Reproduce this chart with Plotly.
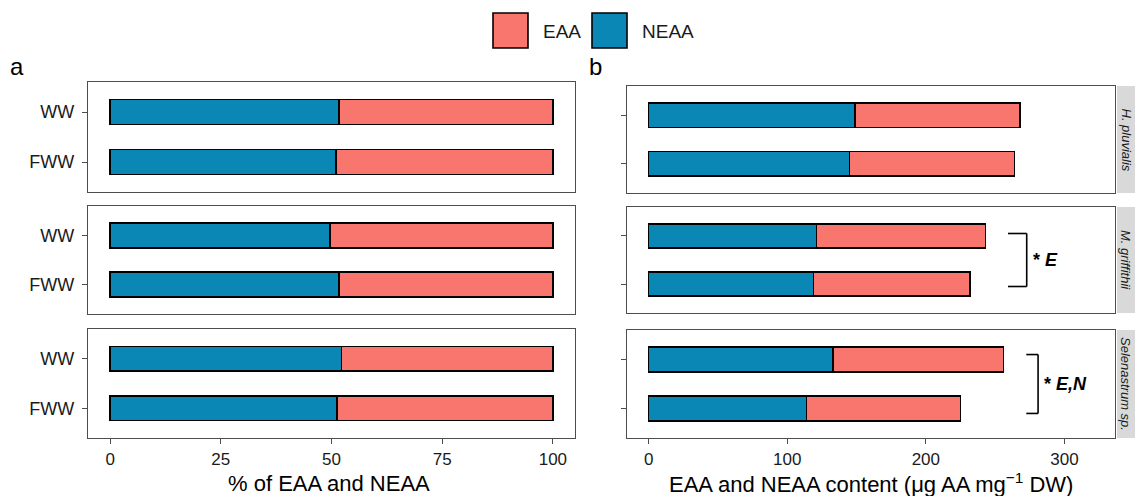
import plotly.graph_objects as go

# ---------------- data ----------------
species = ["H. pluvialis", "M. griffithii", "Selenastrum sp."]
treatments = ["WW", "FWW"]
# panel a: % of total amino acids
neaa_pct = [[51.7, 51.0], [49.6, 51.7], [52.3, 51.2]]
eaa_pct = [[48.3, 49.0], [50.4, 48.3], [47.7, 48.8]]
# panel b: content (ug AA mg-1 DW)
neaa_content = [[149, 145], [121, 119], [133, 114]]
eaa_content = [[119, 119], [122, 113], [123, 111]]
pct_ticks = [0, 25, 50, 75, 100]
content_ticks = [0, 100, 200, 300]
sig_labels = ["", "<b>*</b> <b><i>E</i></b>", "<b>*</b> <b><i>E,N</i></b>"]

EAA_COL = "#F8766D"
NEAA_COL = "#0B87B6"
BORDER = "#4D4D4D"
W, H = 1135, 496
FONT = "Liberation Sans, Arial, sans-serif"


def px_x(p):
    return p / W


def px_y(p):
    return 1 - p / H


# panel geometry in pixels (top, bottom)
rows_a = [(82, 192), (206, 314), (329, 438)]
rows_b = [(86, 193), (207, 313), (330, 438)]
xa_dom = [px_x(88), px_x(575)]
xb_dom = [px_x(627), px_x(1115)]

fig = go.Figure()

for i in range(3):
    ax_a = i + 1
    ax_b = i + 4
    for vals, col, name in [(neaa_pct[i], NEAA_COL, "NEAA"), (eaa_pct[i], EAA_COL, "EAA")]:
        fig.add_trace(go.Bar(
            x=vals, y=treatments, orientation="h", name=name, width=0.5,
            marker=dict(color=col, line=dict(color="black", width=1.6)),
            xaxis=f"x{ax_a}", yaxis=f"y{ax_a}", showlegend=False))
    for vals, col, name in [(neaa_content[i], NEAA_COL, "NEAA"), (eaa_content[i], EAA_COL, "EAA")]:
        fig.add_trace(go.Bar(
            x=vals, y=treatments, orientation="h", name=name, width=0.5,
            marker=dict(color=col, line=dict(color="black", width=1.6)),
            xaxis=f"x{ax_b}", yaxis=f"y{ax_b}", showlegend=False))

layout = dict(
    width=W, height=H, barmode="stack",
    margin=dict(l=0, r=0, t=0, b=0),
    paper_bgcolor="white", plot_bgcolor="white",
    font=dict(family=FONT, color="#1A1A1A"),
    showlegend=False,
)

common_x = dict(showgrid=False, zeroline=False, showline=True, mirror=True,
                linecolor=BORDER, linewidth=1.3, ticklen=5, tickwidth=1.2,
                tickcolor=BORDER, tickfont=dict(size=17, color="#1A1A1A", family=FONT))
common_y = dict(showgrid=False, zeroline=False, showline=True, mirror=True,
                linecolor=BORDER, linewidth=1.3, ticklen=5, tickwidth=1.2,
                tickcolor=BORDER, type="category", categoryorder="array",
                categoryarray=["FWW", "WW"], range=[-0.6, 1.6],
                tickfont=dict(size=18, color="#1A1A1A", family=FONT))

for i in range(3):
    ax_a = i + 1
    ax_b = i + 4
    bottom = (i == 2)
    xa = dict(common_x, domain=xa_dom, range=[-5, 105], anchor=f"y{ax_a}",
              tickvals=pct_ticks, ticks="outside" if bottom else "",
              showticklabels=bottom)
    xb = dict(common_x, domain=xb_dom, range=[-15.6, 336.5], anchor=f"y{ax_b}",
              tickvals=content_ticks, ticks="outside" if bottom else "",
              showticklabels=bottom)
    ya = dict(common_y, domain=[px_y(rows_a[i][1]), px_y(rows_a[i][0])],
              anchor=f"x{ax_a}", ticks="outside", showticklabels=True,
              ticklabelstandoff=4)
    yb = dict(common_y, domain=[px_y(rows_b[i][1]), px_y(rows_b[i][0])],
              anchor=f"x{ax_b}", ticks="outside", showticklabels=False)
    layout["xaxis" if ax_a == 1 else f"xaxis{ax_a}"] = xa
    layout[f"xaxis{ax_b}"] = xb
    layout["yaxis" if ax_a == 1 else f"yaxis{ax_a}"] = ya
    layout[f"yaxis{ax_b}"] = yb

fig.update_layout(**layout)

shapes = []
annotations = []

# strips on the right of panel b
for i, (t, b) in enumerate(rows_b):
    shapes.append(dict(type="rect", xref="paper", yref="paper",
                       x0=px_x(1117), x1=1.0, y0=px_y(b), y1=px_y(t),
                       fillcolor="#D9D9D9", line=dict(width=0), layer="below"))
    annotations.append(dict(xref="paper", yref="paper", x=px_x(1126),
                            y=px_y((t + b) / 2), text=f"<i>{species[i]}</i>",
                            textangle=90, showarrow=False,
                            font=dict(size=13, color="#1A1A1A", family=FONT),
                            xanchor="center", yanchor="middle"))

# significance brackets (panel b, rows 2 and 3)
brackets = {1: (259.3, 272.8, -0.05, 1.05, 276.0), 2: (272.5, 281.0, -0.1, 1.1, 284.0)}
for i, (xh, xv, ylo, yhi, xt) in brackets.items():
    xr, yr = f"x{i + 4}", f"y{i + 4}"
    ln = dict(color="black", width=1.6)
    shapes.append(dict(type="line", xref=xr, yref=yr, x0=xh, x1=xv, y0=yhi, y1=yhi, line=ln))
    shapes.append(dict(type="line", xref=xr, yref=yr, x0=xv, x1=xv, y0=ylo, y1=yhi, line=ln))
    shapes.append(dict(type="line", xref=xr, yref=yr, x0=xh, x1=xv, y0=ylo, y1=ylo, line=ln))
    annotations.append(dict(xref=xr, yref=yr, x=xt, y=(ylo + yhi) / 2,
                            text=sig_labels[i], showarrow=False, xanchor="left",
                            yanchor="middle", font=dict(size=18, color="black", family=FONT)))

# legend (manual)
for x0, col, label, tx in [(493, EAA_COL, "EAA", 541), (592, NEAA_COL, "NEAA", 640)]:
    shapes.append(dict(type="rect", xref="paper", yref="paper",
                       x0=px_x(x0), x1=px_x(x0 + 35), y0=px_y(48), y1=px_y(13),
                       fillcolor=col, line=dict(color="black", width=1.6)))
    annotations.append(dict(xref="paper", yref="paper", x=px_x(tx), y=px_y(31),
                            text=label, showarrow=False, xanchor="left", yanchor="middle",
                            font=dict(size=19, color="#1A1A1A", family=FONT)))

# panel letters
annotations.append(dict(xref="paper", yref="paper", x=px_x(8), y=px_y(82), text="a",
                        showarrow=False, xanchor="left", yanchor="bottom",
                        font=dict(size=24, color="black", family=FONT)))
annotations.append(dict(xref="paper", yref="paper", x=px_x(587), y=px_y(82), text="b",
                        showarrow=False, xanchor="left", yanchor="bottom",
                        font=dict(size=24, color="black", family=FONT)))

# axis titles
annotations.append(dict(xref="paper", yref="paper", x=px_x(329), y=px_y(483),
                        text="% of EAA and NEAA", showarrow=False,
                        xanchor="center", yanchor="middle",
                        font=dict(size=22, color="black", family=FONT)))
annotations.append(dict(xref="paper", yref="paper", x=px_x(871), y=px_y(483),
                        text="EAA and NEAA content (\u03bcg AA mg<sup>\u22121</sup> DW)",
                        showarrow=False, xanchor="center", yanchor="middle",
                        font=dict(size=22, color="black", family=FONT)))

fig.update_layout(shapes=shapes, annotations=annotations)
fig.write_html("out.html",
               config={"displayModeBar": False},
               post_script="document.body.style.margin='0px';document.body.style.overflow='hidden';")
